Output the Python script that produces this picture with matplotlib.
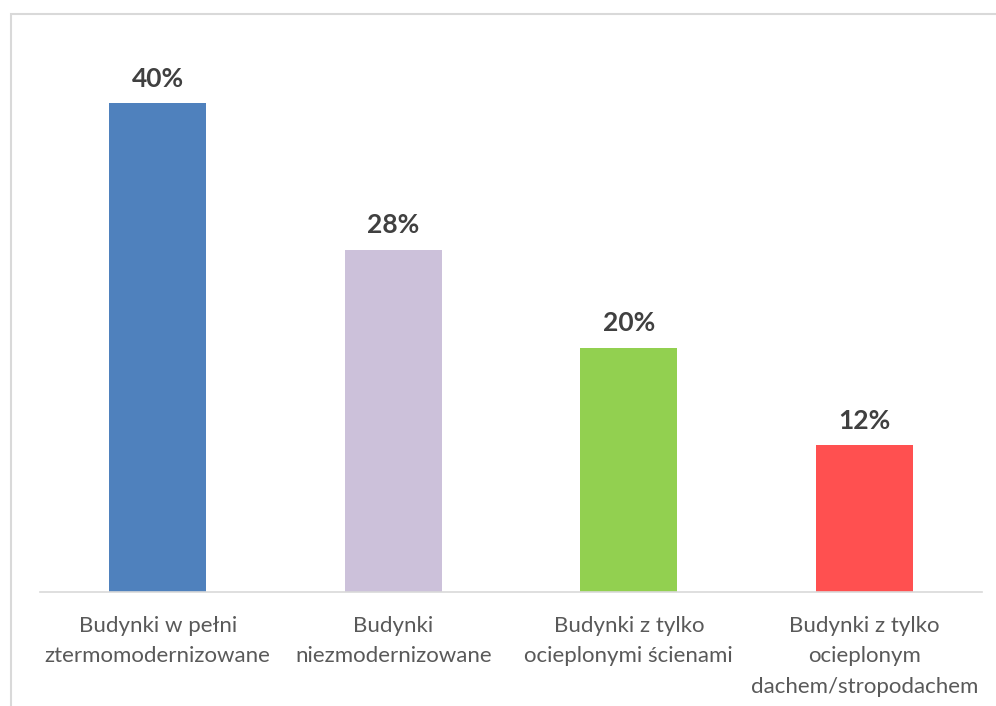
import matplotlib
matplotlib.use("Agg")
import matplotlib.pyplot as plt
from matplotlib.patches import Rectangle

categories = [
    "Budynki w pełni\nztermomodernizowane",
    "Budynki\nniezmodernizowane",
    "Budynki z tylko\nocieplonymi ścienami",
    "Budynki z tylko\nocieplonym\ndachem/stropodachem",
]
shares = [40, 28, 20, 12]
colors = ["#4F81BD", "#CCC1DA", "#92D050", "#FF5050"]

plt.rcParams["font.family"] = ["Lato", "DejaVu Sans"]

W, H = 996, 706
fig = plt.figure(figsize=(W / 100, H / 100), dpi=100)

# chart area frame (continues past the right and bottom edges)
fig.patches.append(Rectangle((11 / W, -0.05), 1.1, (H - 14) / H + 0.05,
                             transform=fig.transFigure, fill=False,
                             edgecolor="#D9D9D9", linewidth=1.5, zorder=0))

ax = fig.add_axes([40 / W, (H - 592) / H, (982 - 40) / W, 550 / H])
x = range(len(categories))
bars = ax.bar(x, shares, width=0.41, color=colors, zorder=2)
ax.set_xlim(-0.5, 3.5)
ax.set_ylim(0, 45)

for b, v in zip(bars, shares):
    ax.annotate(f"{v}%", (b.get_x() + b.get_width() / 2, v),
                xytext=(0, 9), textcoords="offset points",
                ha="center", va="bottom", fontsize=19, fontweight="bold",
                color="#404040")

ax.set_xticks(list(x))
ax.set_xticklabels(categories, fontsize=16, color="#595959", linespacing=1.68)
ax.tick_params(axis="x", length=0, pad=17)
ax.set_yticks([])
for s in ["top", "right", "left"]:
    ax.spines[s].set_visible(False)
ax.spines["bottom"].set_color("#D9D9D9")
ax.spines["bottom"].set_linewidth(1.2)
ax.patch.set_alpha(0)

fig.savefig("out.png", dpi=100)
